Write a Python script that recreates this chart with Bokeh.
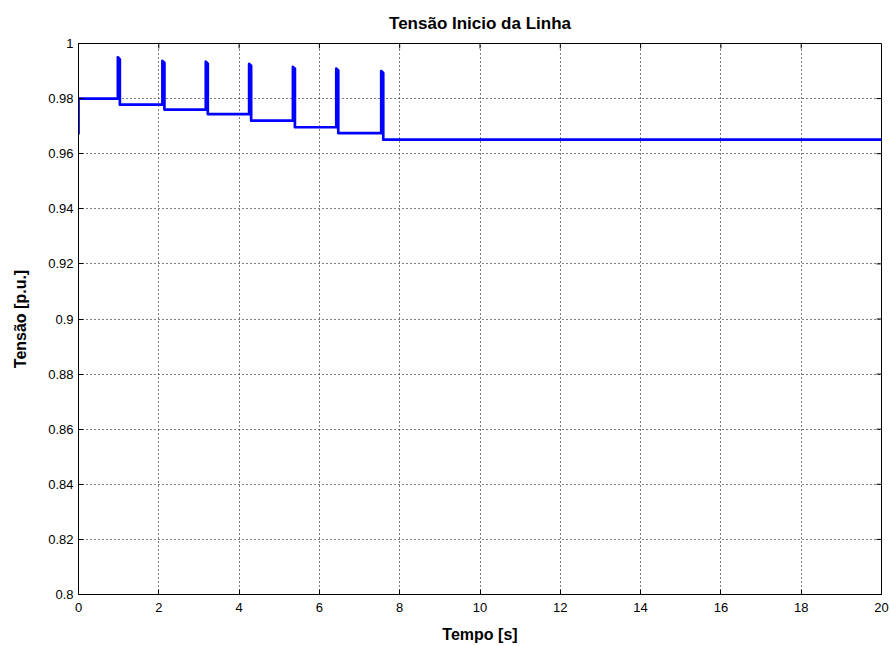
import math
from bokeh.plotting import figure
from bokeh.models import FixedTicker, Range1d
from bokeh.embed import file_html
from bokeh.resources import INLINE

# Time [s] and voltage [p.u.]
t = [0.0, 0.0,
     0.98, 0.98, 1.03, 1.03,
     2.09, 2.09, 2.14, 2.14,
     3.17, 3.17, 3.22, 3.22,
     4.25, 4.25, 4.30, 4.30,
     5.34, 5.34, 5.39, 5.39,
     6.42, 6.42, 6.47, 6.47,
     7.54, 7.54, 7.59, 7.59,
     20.0]
v = [0.967, 0.980,
     0.980, 0.995, 0.9942, 0.9778,
     0.9778, 0.9937, 0.9930, 0.9760,
     0.9760, 0.9934, 0.9927, 0.9744,
     0.9744, 0.9926, 0.9919, 0.9720,
     0.9720, 0.9915, 0.9908, 0.9696,
     0.9696, 0.9909, 0.9902, 0.9675,
     0.9675, 0.9900, 0.9893, 0.9651,
     0.9651]

x_min, x_max = 0, 20
y_min, y_max = 0.8, 1.0
x_ticks = [0, 2, 4, 6, 8, 10, 12, 14, 16, 18, 20]
y_ticks = [0.8, 0.82, 0.84, 0.86, 0.88, 0.9, 0.92, 0.94, 0.96, 0.98, 1.0]
y_tick_labels = ["0.8", "0.82", "0.84", "0.86", "0.88", "0.9", "0.92", "0.94", "0.96", "0.98", "1"]

FONT = "Liberation Sans"

p = figure(frame_width=803, frame_height=551,
           x_range=Range1d(x_min, x_max), y_range=Range1d(y_min, y_max),
           output_backend="svg", toolbar_location=None,
           min_border_left=78, min_border_right=9,
           min_border_top=43, min_border_bottom=52,
           title="Tensão Inicio da Linha")

p.title.align = "center"
p.title.text_font = FONT
p.title.text_font_size = "17px"
p.title.text_font_style = "bold"
p.title.text_color = "black"
p.title.standoff = 21

p.xgrid.ticker = FixedTicker(ticks=x_ticks)
p.ygrid.ticker = FixedTicker(ticks=y_ticks)
for g in (p.xgrid, p.ygrid):
    g.grid_line_color = "black"
    g.grid_line_dash = "1 3"
    g.grid_line_width = 1
    g.grid_line_alpha = 1.0

p.line(t, v, line_color="#0000FF", line_width=2.7, line_join="round")

# box ticks on top and right edges (MATLAB style)
p.ray(x=x_ticks, y=[y_max] * len(x_ticks), length=5, length_units="screen",
      angle=-math.pi / 2, line_color="black", line_width=1)
p.ray(x=[x_max] * len(y_ticks), y=y_ticks, length=5, length_units="screen",
      angle=math.pi, line_color="black", line_width=1)

for ax, ticks in ((p.xaxis[0], x_ticks), (p.yaxis[0], y_ticks)):
    ax.ticker = FixedTicker(ticks=ticks)
    ax.major_tick_in = 5
    ax.major_tick_out = 0
    ax.minor_tick_line_color = None
    ax.axis_line_color = "black"
    ax.major_tick_line_color = "black"
    ax.major_label_text_font = FONT
    ax.major_label_text_font_size = "13px"
    ax.major_label_text_color = "black"
    ax.axis_label_text_font = FONT
    ax.axis_label_text_font_size = "16px"
    ax.axis_label_text_font_style = "bold"
    ax.axis_label_text_color = "black"

p.yaxis[0].major_label_overrides = dict(zip(y_ticks, y_tick_labels))
p.xaxis[0].axis_label = "Tempo [s]"
p.yaxis[0].axis_label = "Tensão [p.u.]"
p.xaxis[0].major_label_standoff = 8
p.xaxis[0].axis_label_standoff = 11
p.yaxis[0].major_label_standoff = 5
p.yaxis[0].axis_label_standoff = 16

p.outline_line_color = "black"
p.background_fill_color = "white"
p.border_fill_color = "white"

open("out.html", "w").write(file_html(p, INLINE))
